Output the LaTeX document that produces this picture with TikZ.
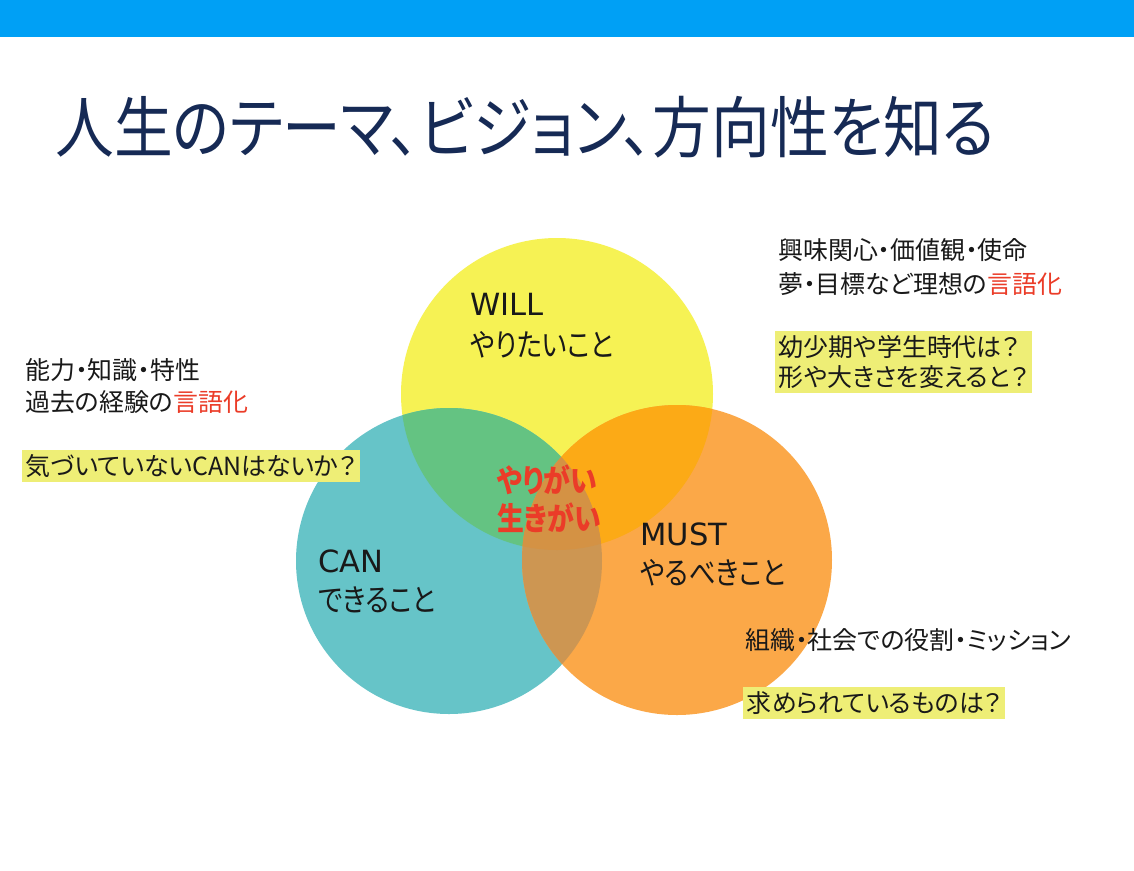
\documentclass[tikz,border=0pt]{standalone}
\usepackage{fontspec}
\newfontfamily\jp{Noto Sans CJK JP}[RawFeature={+palt}]
\newfontfamily\jpwide{Noto Sans CJK JP}[RawFeature={+palt}, FakeStretch=0.85]
\newfontfamily\jptitle{Noto Sans CJK JP}[RawFeature={+palt}, FakeStretch=0.88]
\newfontfamily\latin{DejaVu Sans}
\usepackage{xcolor}
\usepackage{tikz}
\usetikzlibrary{positioning}
\definecolor{barblue}{RGB}{0,160,245}
\definecolor{titlenavy}{RGB}{22,42,85}
\definecolor{willyellow}{RGB}{246,242,84}
\definecolor{canteal}{RGB}{102,196,200}
\definecolor{mustorange}{RGB}{251,168,72}
\definecolor{wcgreen}{RGB}{100,195,130}
\definecolor{wmgold}{RGB}{252,170,22}
\definecolor{cmbrown}{RGB}{205,150,82}
\definecolor{centerbrown}{RGB}{212,146,68}
\definecolor{accentred}{RGB}{235,60,40}
\definecolor{hiliteyellow}{RGB}{238,238,118}
\definecolor{textblack}{RGB}{25,25,25}

\begin{document}
\begin{tikzpicture}[
            x=0.02cm, y=-0.02cm,
            txt/.style={font=\jp\fontsize{14.2pt}{17.6pt}\selectfont, text=textblack,
                        anchor=west, inner sep=0pt, align=left},
            tag/.style={txt, fill=hiliteyellow, inner xsep=2pt, inner ysep=2.5pt},
            setname/.style={font=\latin\fontsize{17.4pt}{21pt}\selectfont, text=textblack,
                            anchor=west, inner sep=0pt},
            setsub/.style={font=\jpwide\fontsize{17.7pt}{21pt}\selectfont, text=textblack,
                           anchor=west, inner sep=0pt},
            core/.style={font=\jpwide\bfseries\fontsize{18pt}{21pt}\selectfont, text=accentred,
                         anchor=west, inner sep=0pt},
            headline/.style={font=\jptitle\fontsize{38pt}{44pt}\selectfont, text=titlenavy,
                             anchor=west, inner sep=0pt}
        ]
            % 背景
            \fill[white] (0,0) rectangle (1134,870);
            \useasboundingbox (0,0) rectangle (1134,870);
            \fill[barblue] (0,0) rectangle (1134,37);

            \node[headline] (title) at (55,127) {人生のテーマ、ビジョン、方向性を知る};

            % 円
            \coordinate (willc) at (557,394);
            \coordinate (canc) at (449,561);
            \coordinate (mustc) at (677,560);

            \fill[willyellow] (willc) circle (156);
            \fill[canteal] (canc) circle (153);
            \fill[mustorange] (mustc) circle (155);

            \begin{scope}
                \clip (willc) circle (156);
                \fill[wcgreen] (canc) circle (153);
                \fill[wmgold] (mustc) circle (155);
            \end{scope}
            \begin{scope}
                \clip (canc) circle (153);
                \fill[cmbrown] (mustc) circle (155);
                \clip (willc) circle (156);
                \fill[centerbrown] (mustc) circle (155);
            \end{scope}

            % 円の中の文字
            \node[setname] (will) at (470,304) {WILL};
            \node[setsub] (willsub) at (470,345) {やりたいこと};
            \node[setname] (can) at (318,561) {CAN};
            \node[setsub] (cansub) at (318,600) {できること};
            \node[setname] (must) at (640,534) {MUST};
            \node[setsub] (mustsub) at (640,573) {やるべきこと};
            \node[core] (yarigai) at (497,480) {やりがい};
            \node[core] (ikigai) at (497,518) {生きがい};

            % CAN の説明
            \node[txt] (cannote) at (25,370) {能力・知識・特性};
            \node[txt] (cannote2) at (25,402) {過去の経験の\textcolor{accentred}{言語化}};
            \node[tag] (canask) at (22,466) {気づいていないCANはないか？};

            % WILL の説明
            \node[txt] (willnote) at (778,250) {興味関心・価値観・使命};
            \node[txt] (willnote2) at (778,284) {夢・目標など理想の\textcolor{accentred}{言語化}};
            \node[tag] (willask) at (775,362) {幼少期や学生時代は？\\形や大きさを変えると？};

            % MUST の説明
            \node[txt] (mustnote) at (745,640) {組織・社会での役割・ミッション};
            \node[tag] (mustask) at (743,703) {求められているものは？};
        \end{tikzpicture}
\end{document}
